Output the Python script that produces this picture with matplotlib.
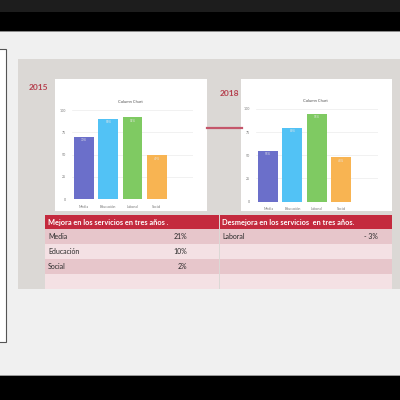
import matplotlib.pyplot as plt
from matplotlib.patches import Rectangle

plt.rcParams['font.family'] = ['Lato', 'DejaVu Sans']

# chart data
categories = ["Media", "Educación", "Laboral", "Social"]
values_2015 = [70, 90, 92, 49]
values_2018 = [55, 80, 95, 48]
bar_colors = ["#6b6fca", "#52c2f5", "#7fca62", "#f8b452"]
y_ticks = [0, 25, 50, 75, 100]

# table data
mejora_title = "Mejora en los servicios en tres años ."
mejora_labels = ["Media", "Educación", "Social"]
mejora_values = ["21%", "10%", "2%"]
desmejora_title = "Desmejora en los servicios  en tres años."
desmejora_labels = ["Laboral"]
desmejora_values = ["- 3%"]

W = H = 400
fig = plt.figure(figsize=(4, 4), dpi=100)
bg = fig.add_axes([0, 0, 1, 1])
bg.set_xlim(0, W)
bg.set_ylim(H, 0)
bg.axis("off")


def box(x0, y0, x1, y1, color, **kw):
    bg.add_patch(Rectangle((x0, y0), x1 - x0, y1 - y0, facecolor=color,
                           edgecolor=kw.pop("edgecolor", "none"), **kw))


def px_axes(x0, y0, x1, y1):
    return fig.add_axes([x0 / W, 1 - y1 / H, (x1 - x0) / W, (y1 - y0) / H])


# window chrome
box(0, 0, 400, 400, "#f0f0f0")
box(0, 0, 400, 12, "#1d1d1d")
box(0, 12, 400, 31, "#000000")
box(0, 31, 400, 32, "#8a8a8a")
box(0, 375, 400, 376, "#9a9a9a")
box(0, 376, 400, 400, "#000000")
box(-2, 49, 5.5, 342, "#ffffff", edgecolor="#555555", linewidth=0.8)

# slide
box(18, 59, 400, 289, "#dbd8d5")
box(55, 79, 207, 211, "#ffffff")
box(241, 79, 392, 211, "#ffffff")
bg.text(38, 87, "2015", color="#b5404e", fontsize=6, fontweight="bold",
        ha="center", va="center")
bg.text(229, 93, "2018", color="#b5404e", fontsize=6, fontweight="bold",
        ha="center", va="center")
bg.plot([207, 242], [128, 128], color="#c4566a", linewidth=1.6)


def column_chart(ax, values, title_x, title_y):
    xs = range(len(categories))
    ax.bar(xs, values, width=0.82, color=bar_colors, zorder=2)
    for x, v in zip(xs, values):
        ax.text(x, v - 4, f"{v}%", ha="center", va="center", fontsize=2.2,
                color="#e8e8e8", zorder=3)
    ax.set_xlim(-0.5, 4.5)
    ax.set_ylim(0, 100)
    ax.set_yticks(y_ticks)
    ax.set_yticklabels([str(t) for t in y_ticks], fontsize=2.6, color="#777777")
    ax.set_xticks(list(xs))
    ax.set_xticklabels(categories, fontsize=2.6, color="#777777")
    ax.tick_params(length=0, pad=4)
    ax.yaxis.grid(True, color="#ececec", linewidth=0.5, zorder=0)
    for s in ax.spines.values():
        s.set_visible(False)
    ax.set_facecolor("none")
    bg.text(title_x, title_y, "Column Chart", fontsize=3, color="#555555",
            ha="center", va="center")


column_chart(px_axes(72, 110, 193, 199), values_2015, 130, 102)
column_chart(px_axes(256, 109, 377.5, 201.5), values_2018, 315, 101)


# tables
row_colors = ["#e7c6cb", "#f4e1e4", "#e7c6cb", "#f4e1e4"]
row_top = [229, 244, 259, 274]
row_h = 15


def table(x0, x1, val_right, title, labels, values):
    box(x0, 215, x1, 229, "#c42a3e")
    bg.text(x0 + 3, 222, title, color="white", fontsize=5.3, fontweight="bold",
            ha="left", va="center")
    for i, top in enumerate(row_top):
        box(x0, top, x1, top + row_h, row_colors[i])
    for i, (lab, val) in enumerate(zip(labels, values)):
        yc = row_top[i] + row_h / 2
        bg.text(x0 + 3, yc, lab, color="#2a2a2a", fontsize=5,
                ha="left", va="center")
        bg.text(val_right, yc, val, color="#2a2a2a", fontsize=5,
                ha="right", va="center")


table(45, 218.5, 187, mejora_title, mejora_labels, mejora_values)
table(219.5, 392, 378, desmejora_title, desmejora_labels, desmejora_values)

fig.savefig("out.png", dpi=100)
